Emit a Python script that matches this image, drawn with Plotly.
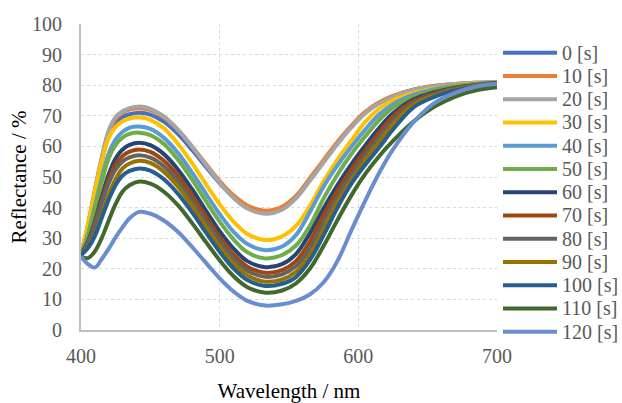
import plotly.graph_objects as go

# ---------------- data ----------------
wavelength = [400, 405, 410, 415, 420, 425, 430, 435, 442, 450, 460, 470, 480, 490, 500, 510, 520, 533,
              545, 555, 565, 575, 585, 595, 605, 615, 625, 640, 655, 670, 685, 700]

series_names = ["0 [s]", "10 [s]", "20 [s]", "30 [s]", "40 [s]", "50 [s]", "60 [s]",
                "70 [s]", "80 [s]", "90 [s]", "100 [s]", "110 [s]", "120 [s]"]

r_0 = [24.5, 33.8, 45.0, 55.2, 63.6, 67.7, 69.6, 70.5, 71.0, 70.4, 68.0, 64.0, 58.9, 53.4, 48.0, 43.4, 40.1, 38.5,
       39.7, 43.2, 49.0, 55.0, 61.0, 66.4, 71.0, 74.2, 76.4, 78.5, 79.7, 80.4, 80.8, 81.0]
r_10 = [24.5, 34.1, 45.6, 56.2, 64.8, 69.1, 71.1, 72.0, 72.5, 71.9, 69.4, 65.3, 60.0, 54.3, 48.7, 44.0, 40.7, 39.0,
        40.3, 43.8, 49.6, 55.6, 61.5, 66.8, 71.3, 74.4, 76.5, 78.6, 79.8, 80.4, 80.8, 81.0]
r_20 = [24.5, 34.2, 45.8, 56.5, 65.2, 69.6, 71.5, 72.5, 73.0, 72.3, 69.7, 65.4, 60.0, 54.0, 48.2, 43.2, 39.7, 38.0,
        39.3, 43.0, 48.8, 54.8, 60.8, 66.2, 70.8, 74.0, 76.2, 78.5, 79.7, 80.4, 80.8, 81.0]
r_30 = [24.5, 34.4, 45.2, 55.1, 62.8, 66.4, 68.2, 69.1, 69.5, 68.7, 65.8, 60.8, 54.6, 47.7, 41.1, 35.4, 31.4, 29.4,
        30.6, 34.0, 40.5, 48.6, 55.7, 62.0, 68.0, 72.3, 75.1, 77.5, 78.9, 80.0, 80.6, 80.9]
r_40 = [24.5, 31.2, 40.5, 49.7, 57.7, 62.3, 64.8, 66.1, 66.5, 65.7, 62.7, 57.8, 51.5, 44.6, 37.9, 32.1, 28.1, 26.1,
        27.3, 31.0, 38.5, 46.9, 53.8, 59.9, 65.5, 70.4, 73.8, 76.9, 78.7, 79.8, 80.5, 80.9]
r_50 = [24.5, 30.9, 39.7, 48.5, 56.1, 60.5, 62.9, 64.1, 64.5, 63.7, 60.7, 55.6, 49.2, 42.2, 35.4, 29.6, 25.4, 23.4,
        24.5, 27.6, 34.0, 43.0, 50.8, 57.5, 63.3, 68.6, 72.7, 76.2, 78.3, 79.6, 80.3, 80.8]
r_60 = [24.5, 28.9, 35.5, 43.6, 50.9, 56.1, 59.0, 60.5, 61.2, 60.4, 57.4, 52.4, 46.1, 39.1, 32.3, 26.6, 22.5, 20.5,
        21.5, 24.8, 31.5, 39.8, 47.4, 54.2, 60.3, 66.0, 70.8, 75.4, 77.7, 79.2, 80.1, 80.7]
r_70 = [24.5, 28.6, 34.9, 42.4, 49.3, 54.2, 56.9, 58.3, 59.0, 58.2, 55.2, 50.3, 44.0, 37.1, 30.4, 24.7, 20.7, 18.7,
        19.6, 22.5, 28.8, 37.6, 45.5, 52.5, 58.6, 64.5, 69.8, 74.9, 77.4, 79.0, 80.0, 80.6]
r_80 = [24.5, 28.4, 34.3, 41.5, 48.0, 52.5, 55.1, 56.4, 57.1, 56.3, 53.4, 48.5, 42.3, 35.5, 28.9, 23.3, 19.4, 17.4,
        18.2, 20.8, 26.5, 35.3, 43.4, 50.6, 57.0, 63.0, 68.5, 74.3, 77.1, 78.8, 79.9, 80.5]
r_90 = [24.5, 27.0, 31.3, 37.7, 44.2, 49.4, 52.8, 54.4, 55.3, 54.6, 51.6, 46.8, 40.6, 33.9, 27.3, 21.7, 17.8, 15.8,
        16.5, 19.0, 24.5, 33.0, 41.8, 49.0, 55.5, 61.5, 67.2, 73.7, 76.7, 78.6, 79.8, 80.4]
r_100 = [24.5, 26.8, 30.7, 36.7, 42.6, 47.4, 50.5, 52.0, 52.8, 52.1, 49.2, 44.5, 38.5, 31.9, 25.6, 20.1, 16.3, 14.4,
         15.1, 17.3, 22.8, 31.0, 40.0, 47.8, 54.0, 59.6, 65.5, 72.8, 76.2, 78.3, 79.6, 80.3]
r_110 = [24.0, 23.5, 25.7, 30.1, 35.8, 41.2, 45.3, 47.3, 48.5, 47.8, 45.1, 40.7, 35.0, 28.8, 22.8, 17.6, 14.0, 12.2,
         12.9, 15.2, 20.0, 27.5, 36.0, 44.0, 51.0, 56.8, 61.8, 68.2, 73.0, 76.3, 78.3, 79.3]
r_120 = [24.0, 21.5, 20.4, 23.2, 26.6, 30.3, 33.6, 36.5, 38.6, 38.0, 35.7, 32.0, 27.2, 22.0, 16.9, 12.6, 9.5, 8.0,
         8.4, 9.5, 11.6, 15.6, 22.6, 32.6, 42.3, 51.3, 59.0, 68.0, 74.2, 77.6, 79.6, 80.5]

series_values = [r_0, r_10, r_20, r_30, r_40, r_50, r_60, r_70, r_80, r_90, r_100, r_110, r_120]

colors = ["#4472C4", "#ED7D31", "#A5A5A5", "#FFC000", "#5B9BD5", "#70AD47", "#264478",
          "#9E480E", "#636363", "#997300", "#255E91", "#43682B", "#698ED0"]

x_ticks = [400, 500, 600, 700]
y_ticks = [0, 10, 20, 30, 40, 50, 60, 70, 80, 90, 100]

# ---------------- figure ----------------
W, H = 622, 403
ML, MT = 81, 24
PW, PH = 416, 306
MR, MB = W - ML - PW, H - MT - PH
FONT = "Liberation Serif"
TICK_COLOR = "#595959"

fig = go.Figure()
for name, vals, col in zip(series_names, series_values, colors):
    fig.add_trace(go.Scatter(x=wavelength, y=vals, mode="lines", name=name,
                             line=dict(color=col, width=4, shape="spline", smoothing=1.0),
                             showlegend=False))

# custom legend (long line samples like the original)
def px_to_paper_x(px):
    return (px - ML) / PW

def px_to_paper_y(py):
    return (MT + PH - py) / PH

leg_top, leg_step = 52.7, 23.25
shapes, annotations = [], []
for i, (name, col) in enumerate(zip(series_names, colors)):
    py = leg_top + leg_step * i
    yp = px_to_paper_y(py)
    shapes.append(dict(type="line", xref="paper", yref="paper",
                       x0=px_to_paper_x(503), x1=px_to_paper_x(557), y0=yp, y1=yp,
                       line=dict(color=col, width=4)))
    annotations.append(dict(xref="paper", yref="paper", x=px_to_paper_x(560), y=yp,
                            text=name, showarrow=False, xanchor="left", yanchor="middle",
                            font=dict(family=FONT, size=20, color=TICK_COLOR)))

fig.update_layout(
    width=W, height=H,
    margin=dict(l=ML, r=MR, t=MT, b=MB, autoexpand=False),
    paper_bgcolor="white", plot_bgcolor="white",
    font=dict(family=FONT, size=20, color=TICK_COLOR),
    shapes=shapes, annotations=annotations,
    showlegend=False,
)
fig.update_xaxes(
    range=[400, 700], tickvals=x_ticks, ticktext=[str(v) for v in x_ticks],
    showgrid=True, gridcolor="#D9D9D9", griddash="dot", gridwidth=1.3,
    showline=True, linecolor="#BFBFBF", linewidth=2,
    ticks="", ticklabelstandoff=7, zeroline=False, automargin=False,
    tickfont=dict(family=FONT, size=20, color=TICK_COLOR),
    title=dict(text="Wavelength / nm", font=dict(family=FONT, size=21, color="#000000"), standoff=19),
)
fig.update_yaxes(
    range=[0, 100], tickvals=y_ticks, ticktext=[str(v) for v in y_ticks],
    showgrid=True, gridcolor="#D9D9D9", griddash="dot", gridwidth=1.3,
    showline=True, linecolor="#BFBFBF", linewidth=2,
    ticks="", ticklabelstandoff=13, zeroline=False, automargin=False,
    tickfont=dict(family=FONT, size=20, color=TICK_COLOR),
    title=dict(text="Reflectance / %", font=dict(family=FONT, size=21, color="#000000"), standoff=0),
)

# remove the browser's default page margin / scrollbars so the figure fills the window exactly
fig.write_html("out.html", config={"displayModeBar": False}, post_script=(
    "document.documentElement.style.overflow='hidden';"
    "document.body.style.margin='0';document.body.style.overflow='hidden';"))
